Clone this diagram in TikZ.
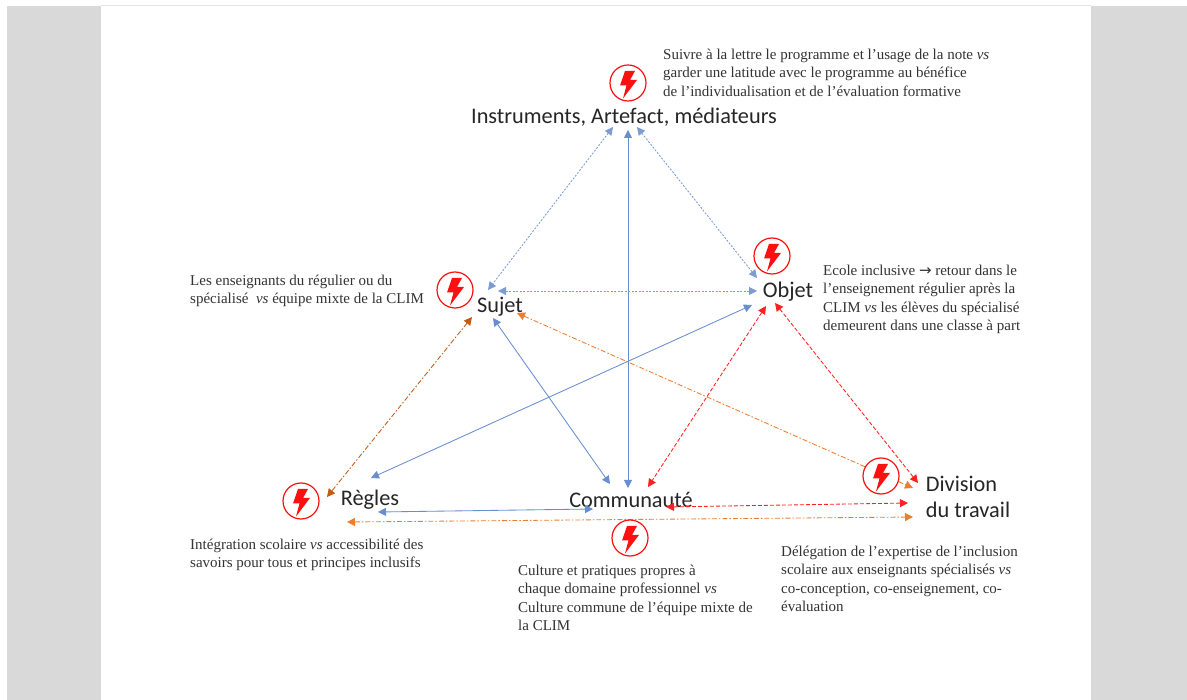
\documentclass[tikz,border=0pt]{standalone}
\usepackage{fontspec}
\setmainfont{Liberation Serif}
\newfontfamily\labelfont{Carlito}
\usetikzlibrary{arrows.meta}
\definecolor{pageGray}{HTML}{D9D9D9}
\definecolor{linkBlue}{HTML}{4472C4}
\definecolor{linkRed}{HTML}{FF2020}
\definecolor{linkOrange}{HTML}{ED7D31}
\definecolor{linkBrown}{HTML}{C55A11}
\definecolor{boltRed}{HTML}{FF1010}
\definecolor{noteGray}{HTML}{333333}
\tikzset{
  x=1pt,y=-1pt,
  term/.style={font=\labelfont\fontsize{22.3}{26.5}\selectfont,text=black!85,inner sep=0pt,align=left},
  note/.style={font=\fontsize{15}{18.3}\selectfont,text=noteGray,inner sep=0pt,anchor=north west,align=left},
  boltring/.style={circle,draw=boltRed,line width=1.2pt,fill=white,minimum size=36pt,inner sep=0pt},
  link/.style={line width=0.85pt,{Triangle[length=8pt,width=8pt]}-{Triangle[length=8pt,width=8pt]}},
  solidblue/.style={link,linkBlue!80},
  dotblue/.style={link,linkBlue!70,dash pattern=on 2pt off 1.5pt},
  dashred/.style={link,linkRed,dash pattern=on 4pt off 2pt},
  dashorange/.style={link,linkOrange,dash pattern=on 5pt off 2pt on 1.5pt off 2pt},
}
\newcommand{\boltmark}[3]{%
  \node[boltring] (#1) at (#2,#3) {};
  \fill[boltRed] ([shift={(-3,-12)}]#1.center) -- ([shift={(7,-12)}]#1.center) -- ([shift={(2,-3)}]#1.center)
    -- ([shift={(9,-3)}]#1.center) -- ([shift={(-5,15.5)}]#1.center) -- ([shift={(-1.5,2.5)}]#1.center)
    -- ([shift={(-8,2.5)}]#1.center) -- cycle;
}
\newcommand{\lk}[7]{% style, node a, dx, dy, node b, dx, dy
  \draw[#1] ([shift={(#3,#4-2)}]#2.center) -- ([shift={(#6,#7-2)}]#5.center);
}
\begin{document}
\begin{tikzpicture}
\useasboundingbox (0,0) rectangle (1187,700);
\fill[white] (0,0) rectangle (1187,700);
\fill[pageGray] (7,6) rectangle (101,700);
\fill[pageGray] (1091,6) rectangle (1187,700);
\fill[pageGray!70] (101,5) rectangle (1091,6);

\node[term] (instr) at (624,117) {Instruments, Artefact, médiateurs};
\node[term] (sujet) at (500,307) {Sujet};
\node[term] (objet) at (788,292) {Objet};
\node[term] (regles) at (370,500) {Règles};
\node[term] (comm) at (631,500) {Communauté};
\node[term] (divis) at (968,497) {Division\\du travail};

\lk{dotblue}{instr}{-11}{12}{sujet}{-12}{-15}
\lk{solidblue}{instr}{4}{15}{comm}{-3}{-10}
\lk{dotblue}{instr}{13}{12}{objet}{-31}{-12}
\lk{dotblue}{sujet}{-2}{-14}{objet}{-31}{1}
\lk{dashorange,linkBrown}{sujet}{-28}{12}{regles}{-43}{-1}
\lk{solidblue}{sujet}{-7}{13}{comm}{-21}{-14}
\lk{dashorange}{sujet}{17}{8}{divis}{-55}{-7}
\lk{solidblue}{objet}{-36}{15}{regles}{1}{-20}
\lk{dashred}{objet}{-22}{16}{comm}{17}{-11}
\lk{dashred}{objet}{-13}{13}{divis}{-50}{-12}
\lk{solidblue}{regles}{8}{14}{comm}{-38}{11}
\lk{dashorange}{regles}{-23}{24}{divis}{-55}{22}
\lk{dashred}{comm}{35}{9}{divis}{-60}{8}

\boltmark{b1}{628}{83}
\boltmark{b2}{772}{256}
\boltmark{b3}{455}{290}
\boltmark{b4}{301}{501}
\boltmark{b5}{630}{538}
\boltmark{b6}{881}{476}

\node[note] (n1) at (663,49) {Suivre à la lettre le programme et l’usage de la note \textit{vs}\\garder une latitude avec le programme au bénéfice\\de l’individualisation et de l’évaluation formative};
\node[note] (n2) at (823,265) {Ecole inclusive {\fontspec{DejaVu Sans}\fontsize{15}{18}\selectfont →} retour dans le\\l’enseignement régulier après la\\CLIM \textit{vs} les élèves du spécialisé\\demeurent dans une classe à part};
\node[note] (n3) at (190,275) {Les enseignants du régulier ou du\\spécialisé~ \textit{vs} équipe mixte de la CLIM};
\node[note] (n4) at (190,539) {Intégration scolaire \textit{vs} accessibilité des\\savoirs pour tous et principes inclusifs};
\node[note] (n5) at (518,565) {Culture et pratiques propres à\\chaque domaine professionnel \textit{vs}\\Culture commune de l’équipe mixte de\\la CLIM};
\node[note] (n6) at (781,546) {Délégation de l’expertise de l’inclusion\\scolaire aux enseignants spécialisés \textit{vs}\\co-conception, co-enseignement, co-\\évaluation};
\end{tikzpicture}
\end{document}
